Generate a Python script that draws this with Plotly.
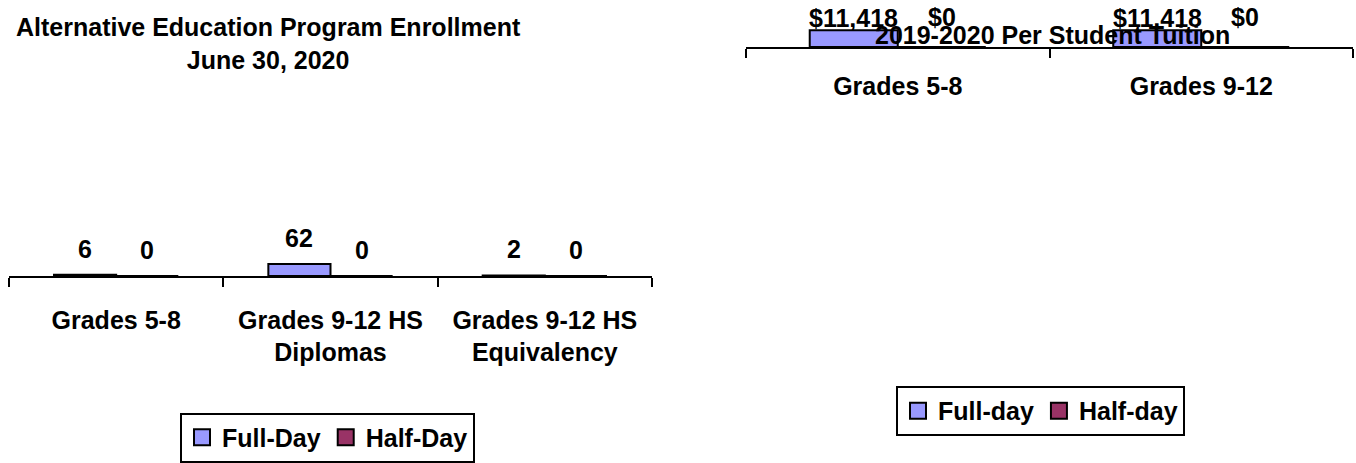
import plotly.graph_objects as go

# ---- data ----
enroll_categories = ["Grades 5-8", "Grades 9-12 HS<br>Diplomas", "Grades 9-12 HS<br>Equivalency"]
enroll_full = [6, 62, 2]
enroll_half = [0, 0, 0]

tuition_categories = ["Grades 5-8", "Grades 9-12"]
tuition_full = [11418, 11418]
tuition_half = [0, 0]

# ---- style ----
W, H = 1356, 463
FULL = "#9999FF"
HALF = "#993366"
FONT = dict(family="Liberation Sans, Arial, sans-serif", size=25, color="black", weight="bold")
BARGAP = 0.42

# left plot geometry
L_DOM_X = [9 / W, 652 / W]
L_AXIS_PX = 279.5
L_DOM_Y = [(H - L_AXIS_PX) / H, 0.80]
L_YMAX = 956
# right plot geometry
R_DOM_X = [746 / W, 1353 / W]
R_AXIS_PX = 47.5
R_DOM_Y = [(H - R_AXIS_PX) / H, 1.0]
R_YMAX = 32300

fig = go.Figure()


def add_series(x, y, name, color, xa, ya, leg):
    fig.add_trace(go.Bar(x=x, y=y, name=name, showlegend=False,
                         marker=dict(color=color, line=dict(color="black", width=2)),
                         xaxis=xa, yaxis=ya))
    # legend entry (larger square swatch like the original)
    fig.add_trace(go.Scatter(x=[None], y=[None], mode="markers", name=name,
                             marker=dict(symbol="square", size=16, color=color,
                                         line=dict(color="black", width=2)),
                             xaxis=xa, yaxis=ya, legend=leg, hoverinfo="skip"))


add_series(enroll_categories, enroll_full, "Full-Day", FULL, "x", "y", "legend")
add_series(enroll_categories, enroll_half, "Half-Day", HALF, "x", "y", "legend")
add_series(tuition_categories, tuition_full, "Full-day", FULL, "x2", "y2", "legend2")
add_series(tuition_categories, tuition_half, "Half-day", HALF, "x2", "y2", "legend2")

annotations = []
off = (1 - BARGAP) / 4.0

# left data labels
for i, (vf, vh) in enumerate(zip(enroll_full, enroll_half)):
    for v, dx in ((vf, -off), (vh, off)):
        annotations.append(dict(x=i + dx, y=v, xref="x", yref="y", text=f"{v:,}",
                                showarrow=False, yanchor="middle", yshift=26, font=FONT))

# right data labels (clamped at top of chart area like the original)
r_h = (R_DOM_Y[1] - R_DOM_Y[0]) * H
for i, (vf, vh) in enumerate(zip(tuition_full, tuition_half)):
    for v, dx in ((vf, -off), (vh, off)):
        bar_px = v / R_YMAX * r_h
        shift = min(31, (R_AXIS_PX - 18) - bar_px)
        annotations.append(dict(x=i + dx, y=v, xref="x2", yref="y2", text=f"${v:,}",
                                showarrow=False, yanchor="middle", yshift=shift, font=FONT))

# titles
annotations.append(dict(x=268 / W, y=1 - 44.5 / H, xref="paper", yref="paper",
                        text="Alternative Education Program Enrollment<br>June 30, 2020",
                        showarrow=False, xanchor="center", yanchor="middle", font=FONT))
annotations.append(dict(x=1052 / W, y=1 - 35.5 / H, xref="paper", yref="paper",
                        text="2019-2020 Per Student Tuition",
                        showarrow=False, xanchor="center", yanchor="middle", font=FONT))

xcommon = dict(type="category", showline=True, linecolor="black", linewidth=2,
               ticks="outside", ticklen=9, tickwidth=2, tickcolor="black",
               tickson="boundaries", showgrid=False, zeroline=False, tickfont=FONT)

legend_common = dict(orientation="h", bordercolor="black", borderwidth=2,
                     bgcolor="white", font=FONT, xanchor="center", yanchor="top",
                     traceorder="normal", itemwidth=30)

fig.update_layout(
    width=W, height=H, autosize=False,
    margin=dict(l=0, r=0, t=0, b=0),
    paper_bgcolor="white", plot_bgcolor="rgba(0,0,0,0)",
    font=FONT,
    barmode="group", bargap=BARGAP, bargroupgap=0,
    xaxis=dict(domain=L_DOM_X, anchor="y", ticklabelstandoff=21, **xcommon),
    yaxis=dict(domain=L_DOM_Y, range=[0, L_YMAX], visible=False, anchor="x"),
    xaxis2=dict(domain=R_DOM_X, anchor="y2", ticklabelstandoff=16, **xcommon),
    yaxis2=dict(domain=R_DOM_Y, range=[0, R_YMAX], visible=False, anchor="x2"),
    legend=dict(x=327.5 / W, y=(H - 418) / H, **legend_common),
    legend2=dict(x=1040.5 / W, y=(H - 391) / H, **legend_common),
    annotations=annotations,
)

fig.write_html("out.html", config={"displayModeBar": False},
               post_script="document.body.style.margin='0px';document.body.style.overflow='hidden';")
